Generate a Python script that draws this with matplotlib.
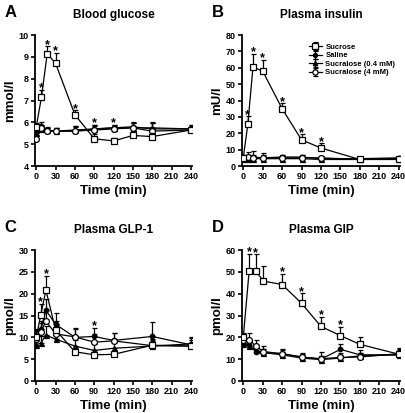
import numpy as np
import matplotlib
matplotlib.use('Agg')
import matplotlib.pyplot as plt

plt.rcParams['font.family'] = ['Liberation Sans', 'DejaVu Sans']
plt.rcParams['font.weight'] = 'bold'

# time points (min) per panel
t_a = [0, 8, 17, 30, 60, 90, 120, 150, 180, 240]
t_b = [0, 7, 15, 30, 60, 90, 120, 180, 240]
t_c = [0, 7, 15, 30, 60, 90, 120, 180, 240]
t_d = [0, 9, 19, 31, 60, 90, 120, 150, 180, 240]

# A - blood glucose (mmol/l)
a_sucrose = [5.8, 7.15, 9.15, 8.7, 6.35, 5.25, 5.15, 5.4, 5.35, 5.65]
a_sucrose_err = [0.15, 0.35, 0.35, 0.5, 0.2, 0.2, 0.15, 0.15, 0.15, 0.1]
a_saline = [5.6, 5.85, 5.6, 5.6, 5.6, 5.7, 5.75, 5.8, 5.7, 5.7]
a_saline_err = [0.2, 0.15, 0.15, 0.15, 0.25, 0.2, 0.15, 0.2, 0.3, 0.2]
a_sucr04 = [5.5, 5.7, 5.65, 5.6, 5.65, 5.7, 5.75, 5.75, 5.75, 5.7]
a_sucr04_err = [0.15, 0.15, 0.15, 0.15, 0.2, 0.2, 0.15, 0.2, 0.2, 0.2]
a_sucr4 = [5.25, 5.75, 5.6, 5.6, 5.6, 5.65, 5.7, 5.75, 5.6, 5.65]
a_sucr4_err = [0.15, 0.15, 0.15, 0.15, 0.2, 0.2, 0.15, 0.2, 0.35, 0.2]
a_star = [8, 17, 30, 60, 90, 120]

# B - plasma insulin (mU/l)
b_sucrose = [5, 25.5, 60.5, 58, 35, 16, 11, 4, 4]
b_sucrose_err = [1, 5, 8, 7, 3.5, 3.5, 3, 1.5, 1]
b_saline = [5, 5, 5.5, 5, 5.5, 5.5, 4.5, 4.5, 5]
b_saline_err = [1.5, 1.5, 1.5, 1.5, 1.5, 1.5, 1, 1, 1]
b_sucr04 = [4.5, 4, 4.5, 4.5, 4.5, 4.5, 4, 4, 4.5]
b_sucr04_err = [1, 2, 1.5, 1.5, 1, 1, 1, 1, 1]
b_sucr4 = [5, 5.5, 5, 5, 5, 5, 5, 4, 4.5]
b_sucr4_err = [1.5, 3, 4, 3, 1.5, 1.5, 1, 1, 1]
b_star = [7, 15, 30, 60, 90, 120]

# C - plasma GLP-1 (pmol/l)
c_sucrose = [10, 15.2, 20.8, 11.7, 6.7, 6.0, 6.1, 8.2, 8.0]
c_sucrose_err = [2, 2.5, 3.3, 2, 1, 1, 1, 1, 1]
c_saline = [9.5, 11.8, 16.2, 13, 10, 10.2, 9.3, 10.2, 8.3]
c_saline_err = [2, 2, 2.5, 2.5, 2, 2, 1.8, 3.3, 1.5]
c_sucr04 = [8.3, 8.7, 10.5, 9.6, 8.0, 7.0, 7.5, 8.0, 8.5]
c_sucr04_err = [1.5, 1.5, 2, 1.5, 1.5, 1.5, 1.5, 1.5, 1.5]
c_sucr4 = [9.7, 11.3, 13.7, 10.8, 10.1, 8.9, 9.2, 8.1, 8.0]
c_sucr4_err = [2, 2, 2.5, 2, 2, 1.8, 1.8, 1.5, 1.5]
c_star = [7, 15, 90]

# D - plasma GIP (pmol/l)
d_sucrose = [20, 50.2, 50.6, 45.8, 44.2, 35.6, 25, 20.8, 16.8, 12.3]
d_sucrose_err = [2, 8, 7.5, 7, 5, 4.5, 4.5, 4, 3.5, 3]
d_saline = [17.5, 16.5, 13.5, 13, 12.5, 11, 10, 14.5, 12, 12]
d_saline_err = [2, 2, 1.5, 1.5, 1.5, 1.5, 1.5, 2.5, 2, 2]
d_sucr04 = [17, 16, 14, 13, 12, 10.5, 9.8, 10.5, 11.5, 12]
d_sucr04_err = [2, 2, 1.5, 1.5, 1.5, 1.5, 1.5, 1.5, 1.5, 1.5]
d_sucr4 = [19, 19, 16, 13.5, 12.5, 11, 10.2, 10.8, 11, 12.5]
d_sucr4_err = [2.5, 3, 3, 2.5, 2, 2, 3, 2, 2, 2]
d_star = [9, 19, 60, 90, 120, 150]

labels = ['Sucrose', 'Saline', 'Sucralose (0.4 mM)', 'Sucralose (4 mM)']
styles = [dict(marker='s', mfc='white', ms=4.6),
          dict(marker='o', mfc='black', ms=3.2),
          dict(marker='^', mfc='black', ms=3.6),
          dict(marker='o', mfc='white', ms=4.2)]

fig = plt.figure(figsize=(4.05, 4.13), dpi=100)

panels = [
    ('A', 'Blood glucose', 'mmol/l', t_a,
     [(a_sucrose, a_sucrose_err), (a_saline, a_saline_err), (a_sucr04, a_sucr04_err), (a_sucr4, a_sucr4_err)],
     a_star, (4, 10), np.arange(4, 11, 1), [0.0864, 0.598, 0.388, 0.317]),
    ('B', 'Plasma insulin', 'mU/l', t_b,
     [(b_sucrose, b_sucrose_err), (b_saline, b_saline_err), (b_sucr04, b_sucr04_err), (b_sucr4, b_sucr4_err)],
     b_star, (0, 80), np.arange(0, 81, 10), [0.5975, 0.598, 0.39, 0.317]),
    ('C', 'Plasma GLP-1', 'pmol/l', t_c,
     [(c_sucrose, c_sucrose_err), (c_saline, c_saline_err), (c_sucr04, c_sucr04_err), (c_sucr4, c_sucr4_err)],
     c_star, (0, 30), np.arange(0, 31, 5), [0.0864, 0.0775, 0.388, 0.317]),
    ('D', 'Plasma GIP', 'pmol/l', t_d,
     [(d_sucrose, d_sucrose_err), (d_saline, d_saline_err), (d_sucr04, d_sucr04_err), (d_sucr4, d_sucr4_err)],
     d_star, (0, 60), np.arange(0, 61, 10), [0.5975, 0.0775, 0.39, 0.317]),
]

for letter, title, ylab, t, series, stars, ylim, yt, pos in panels:
    ax = fig.add_axes(pos)
    # filled series first, sucrose drawn on top
    handles = {}
    for i in [1, 2, 3, 0]:
        y, e = series[i]
        h = ax.errorbar(t, y, yerr=[np.zeros(len(e)), e], color='black', lw=0.9,
                        capsize=1.8, capthick=0.9, elinewidth=0.9, mec='black', mew=0.9,
                        zorder=3 + (i == 0), **styles[i])
        handles[i] = h
    # asterisks just above the highest error bar at that time
    for s in stars:
        k = t.index(s)
        top = max(series[j][0][k] + series[j][1][k] for j in range(4))
        ax.annotate('*', (s, top), xytext=(0, -1.2), textcoords='offset points',
                    ha='center', va='baseline', fontsize=9, fontweight='bold')
    ax.set_xlim(-2, 242)
    ax.set_ylim(*ylim)
    ax.set_xticks(np.arange(0, 241, 30))
    ax.set_yticks(yt)
    ax.tick_params(labelsize=6.5, width=1.2, length=3, pad=1.5)
    for lab in ax.get_xticklabels() + ax.get_yticklabels():
        lab.set_fontweight('bold')
    for sp in ['top', 'right']:
        ax.spines[sp].set_visible(False)
    for sp in ['left', 'bottom']:
        ax.spines[sp].set_linewidth(1.3)
    ax.spines['left'].set_position(('data', -2))
    ax.set_title(title, fontsize=8.5, fontweight='bold', pad=12)
    ax.set_xlabel('Time (min)', fontsize=9.5, fontweight='bold', labelpad=3)
    ax.set_ylabel(ylab, fontsize=9.5, fontweight='bold', labelpad=2)
    fig.text(pos[0] - 0.075, pos[1] + pos[3] + 0.055, letter, fontsize=12,
             fontweight='bold', va='center')
    if letter == 'B':
        ax.legend([handles[i] for i in range(4)], labels, loc='upper right',
                  bbox_to_anchor=(1.0, 0.97), frameon=False, fontsize=5.5,
                  handlelength=1.8, handletextpad=0.4, labelspacing=0.15,
                  borderaxespad=0.2, markerscale=0.9)

fig.savefig('out.png', dpi=100)
